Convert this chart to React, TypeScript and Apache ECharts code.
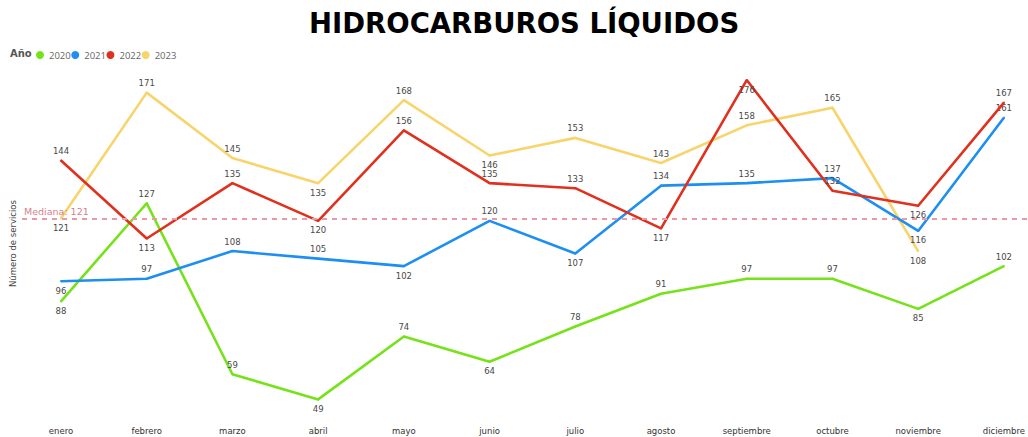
import React, { useEffect, useRef } from "react";
import * as echarts from "echarts";

const months = ["enero", "febrero", "marzo", "abril", "mayo", "junio", "julio", "agosto", "septiembre", "octubre", "noviembre", "diciembre"];
const years = ["2020", "2021", "2022", "2023"];
const v2020 = [88, 127, 59, 49, 74, 64, 78, 91, 97, 97, 85, 102];
const v2021 = [96, 97, 108, 105, 102, 120, 107, 134, 135, 137, 116, 161];
const v2022 = [144, 113, 135, 120, 156, 135, 133, 117, 176, 132, 126, 167];
const v2023 = [121, 171, 145, 135, 168, 146, 153, 143, 158, 165, 108, null];
const median = 121;

const T = "top", B = "bottom";
const pos2020 = [B, T, T, B, T, B, T, T, T, T, B, T];
const pos2021 = [B, T, T, T, B, T, B, T, T, T, B, T];
const pos2022 = [T, B, T, B, T, T, T, B, B, T, B, T];
const pos2023 = [B, T, T, B, T, B, T, T, T, T, B, T];

const colors = ["#76E21A", "#1E8FF2", "#E0301E", "#F8D46C"];
const FONT = "DejaVu Sans";

function mkSeries(name: string, vals: (number | null)[], pos: string[], color: string, z: number) {
  return {
    name,
    type: "line",
    xAxisIndex: 0,
    yAxisIndex: 0,
    symbol: "circle",
    symbolSize: 2,
    showSymbol: true,
    z,
    lineStyle: { color, width: 2.6 },
    itemStyle: { color },
    data: vals.map((v, i) => ({
      value: v,
      label: { show: v != null, position: pos[i] },
    })),
    label: { show: true, color: "#484848", fontSize: 8.5, fontFamily: FONT, distance: 4 },
  };
}

export default function App() {
  const ref = useRef<HTMLDivElement>(null);
  useEffect(() => {
    const chart = echarts.init(ref.current!, undefined, { renderer: "svg" });
    chart.setOption({
      animation: false,
      backgroundColor: "#fff",
      title: {
        text: "HIDROCARBUROS LÍQUIDOS",
        left: 304,
        top: 4,
        textStyle: { fontFamily: FONT, fontWeight: "bold", fontSize: 27.5, color: "#000" },
      },
      legend: {
        data: years,
        left: 31,
        top: 45,
        icon: "circle",
        itemWidth: 8,
        itemHeight: 8,
        itemGap: 0.5,
        textStyle: { fontFamily: "Open Sans", fontSize: 9.5, color: "#666" },
      },
      graphic: [
        {
          type: "text",
          left: 10,
          top: 48,
          style: { text: "Año", fontFamily: FONT, fontWeight: "bold", fontSize: 10, fill: "#555" },
        },
      ],
      grid: [
        { left: 58, right: 22, top: 70, bottom: 20 },
        { left: 22, right: 0, top: 70, bottom: 20 },
      ],
      xAxis: [
        {
          type: "category",
          gridIndex: 0,
          data: months,
          boundaryGap: false,
          axisLine: { show: false },
          axisTick: { show: false },
          splitLine: { show: false },
          axisLabel: { color: "#333", fontFamily: FONT, fontSize: 8.5, margin: 9, interval: 0 },
        },
        { type: "value", gridIndex: 1, min: 0, max: 1, show: false },
      ],
      yAxis: [
        {
          type: "value",
          gridIndex: 0,
          min: 42,
          max: 180,
          axisLine: { show: false },
          axisTick: { show: false },
          axisLabel: { show: false },
          splitLine: { show: false },
          name: "Número de servicios",
          nameLocation: "middle",
          nameGap: 44,
          nameTextStyle: { fontFamily: FONT, fontSize: 8.5, color: "#444" },
        },
        { type: "value", gridIndex: 1, min: 42, max: 180, show: false },
      ],
      series: [
        {
          name: "median",
          type: "line",
          xAxisIndex: 1,
          yAxisIndex: 1,
          symbol: "none",
          lineStyle: { opacity: 0 },
          data: [[0, median], [1, median]],
          z: 1,
          silent: true,
          markLine: {
            silent: true,
            symbol: "none",
            lineStyle: { color: "#E89AA8", type: [5, 5], width: 2 },
            label: {
              position: "insideStartTop",
              formatter: "Mediana: " + median,
              color: "#D9808F",
              fontFamily: FONT,
              fontSize: 9.5,
              distance: 2,
            },
            data: [{ yAxis: median }],
          },
        },
        mkSeries("2020", v2020, pos2020, colors[0], 2),
        mkSeries("2021", v2021, pos2021, colors[1], 3),
        mkSeries("2022", v2022, pos2022, colors[2], 4),
        mkSeries("2023", v2023, pos2023, colors[3], 2),
      ],
    });
    return () => chart.dispose();
  }, []);
  return <div ref={ref} style={{ position: "absolute", left: 0, top: 0, width: 1028, height: 437 }} />;
}
